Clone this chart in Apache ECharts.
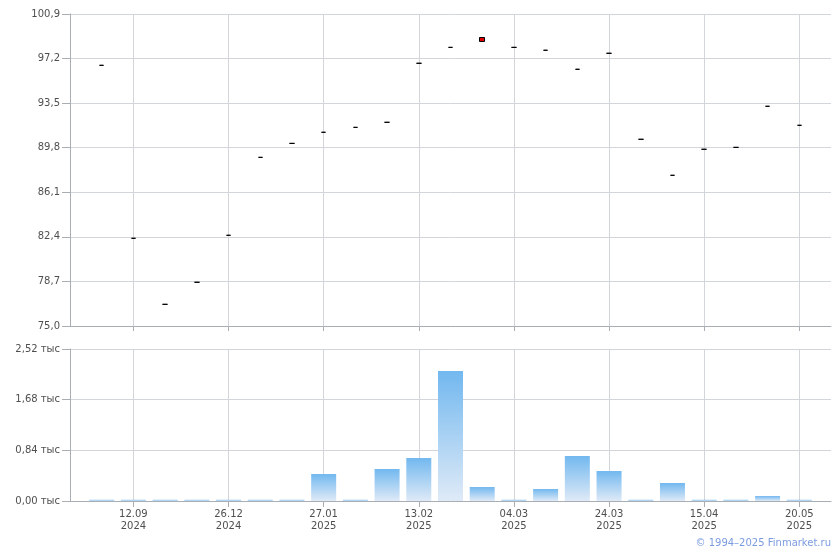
<!DOCTYPE html>
<html>
<head>
<meta charset="utf-8">
<script src="https://cdn.jsdelivr.net/npm/echarts@6/dist/echarts.min.js"></script>
<style>
html,body{margin:0;padding:0;background:#fff;}
#chart{width:840px;height:550px;}
</style>
</head>
<body>
<div id="chart"></div>
<script>
// Category positions (25 slots; labels only where the reference shows them)
const categories = ['', '', '12.09\n2024', '', '', '26.12\n2024', '', '', '27.01\n2025', '', '', '13.02\n2025', '', '', '04.03\n2025', '', '', '24.03\n2025', '', '', '15.04\n2025', '', '', '20.05\n2025', ''];
// Prices
const opens  = [null, 96.64, 82.28, 76.80, 78.63, 82.53, 89.00, 90.16, 91.08, 91.49, 91.91, 96.81, 98.13, 98.95, 98.13, 97.89, 96.31, 97.64, 90.50, 87.51, 89.67, 89.83, 93.24, 91.66, null];
const closes = [null, 96.64, 82.28, 76.80, 78.63, 82.53, 89.00, 90.16, 91.08, 91.49, 91.91, 96.81, 98.13, 98.62, 98.13, 97.89, 96.31, 97.64, 90.50, 87.51, 89.67, 89.83, 93.24, 91.66, null];
const lows   = [null, 96.64, 82.28, 76.80, 78.63, 82.53, 89.00, 90.16, 91.08, 91.49, 91.91, 96.81, 98.13, 98.62, 98.13, 97.89, 96.31, 97.64, 90.50, 87.51, 89.67, 89.83, 93.24, 91.66, null];
const highs  = [null, 96.64, 82.28, 76.80, 78.63, 82.53, 89.00, 90.16, 91.08, 91.49, 91.91, 96.81, 98.13, 98.95, 98.13, 97.89, 96.31, 97.64, 90.50, 87.51, 89.67, 89.83, 93.24, 91.66, null];
// Volumes
const volumes = [null, 20, 20, 20, 20, 20, 20, 20, 448, 20, 531, 713, 2155, 232, 20, 199, 746, 497, 20, 298, 20, 20, 83, 20, null];
// Axis settings
const priceMin = 75.0, priceMax = 100.9, priceStep = 3.7;
const volMin = 0, volMax = 2520, volStep = 840;

const candleData = categories.map((c, i) => closes[i] == null ? '-' : [opens[i], closes[i], lows[i], highs[i]]);
const volData = volumes.map(v => v == null ? '-' : v);

const labeled = (idx) => categories[idx] !== '';
const FONT = 'DejaVu Sans';
const LABEL_COLOR = '#4f4f4f';
const AXIS_COLOR = '#a9adb4';
const GRID_COLOR = '#d2d6da';

const chart = echarts.init(document.getElementById('chart'), null, {renderer: 'canvas'});
chart.setOption({
  animation: false,
  backgroundColor: '#fff',
  grid: [
    {left: 70, right: 9, top: 14, height: 312},
    {left: 70, right: 9, top: 349, height: 152}
  ],
  xAxis: [
    {
      type: 'category', gridIndex: 0, data: categories, boundaryGap: false,
      axisLine: {lineStyle: {color: AXIS_COLOR}},
      axisTick: {show: true, interval: (i) => labeled(i), length: 5, lineStyle: {color: AXIS_COLOR}},
      axisLabel: {show: false},
      splitLine: {show: true, interval: (i) => labeled(i), lineStyle: {color: GRID_COLOR}}
    },
    {
      type: 'category', gridIndex: 1, data: categories, boundaryGap: false,
      axisLine: {lineStyle: {color: AXIS_COLOR}},
      axisTick: {show: true, interval: (i) => labeled(i), length: 6, lineStyle: {color: AXIS_COLOR}},
      axisLabel: {interval: (i) => labeled(i), color: LABEL_COLOR, fontFamily: FONT, fontSize: 10, lineHeight: 12, margin: 7},
      splitLine: {show: true, interval: (i) => labeled(i), lineStyle: {color: GRID_COLOR}}
    }
  ],
  yAxis: [
    {
      type: 'value', gridIndex: 0, min: priceMin, max: priceMax, interval: priceStep,
      axisLine: {show: true, lineStyle: {color: AXIS_COLOR}},
      axisTick: {show: true, length: 8, lineStyle: {color: AXIS_COLOR}},
      axisLabel: {color: LABEL_COLOR, fontFamily: FONT, fontSize: 10, margin: 10,
        formatter: (v) => v.toFixed(1).replace('.', ',')},
      splitLine: {show: true, lineStyle: {color: GRID_COLOR}}
    },
    {
      type: 'value', gridIndex: 1, min: volMin, max: volMax, interval: volStep,
      axisLine: {show: true, lineStyle: {color: AXIS_COLOR}},
      axisTick: {show: true, length: 8, lineStyle: {color: AXIS_COLOR}},
      axisLabel: {color: LABEL_COLOR, fontFamily: FONT, fontSize: 10, margin: 10,
        formatter: (v) => (v / 1000).toFixed(2).replace('.', ',') + ' тыс'},
      splitLine: {show: true, lineStyle: {color: GRID_COLOR}}
    }
  ],
  series: [
    {
      type: 'candlestick', xAxisIndex: 0, yAxisIndex: 0, data: candleData,
      barWidth: 5,
      itemStyle: {
        color: '#ffffff', color0: '#e00000',
        borderColor: '#000000', borderColor0: '#000000', borderColorDoji: '#000000',
        borderWidth: 1
      }
    },
    {
      type: 'bar', xAxisIndex: 1, yAxisIndex: 1, data: volData,
      barWidth: 25,
      itemStyle: {
        color: new echarts.graphic.LinearGradient(0, 0, 0, 1, [
          {offset: 0, color: '#72b8ef'},
          {offset: 1, color: '#dfeaf7'}
        ])
      }
    }
  ],
  graphic: [
    {
      type: 'text', right: 9, bottom: 2,
      style: {text: '© 1994–2025 Finmarket.ru', fill: '#7b9be0', font: '10px "DejaVu Sans"'}
    }
  ]
});
</script>
</body>
</html>
